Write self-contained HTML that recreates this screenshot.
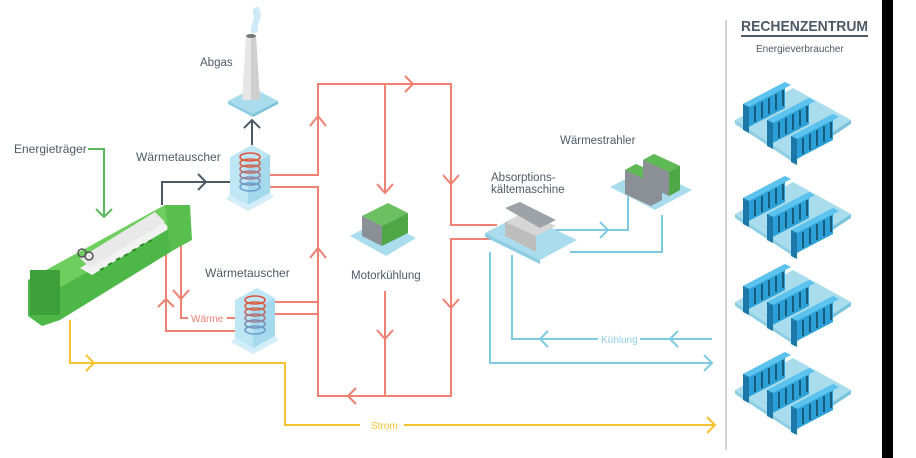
<!DOCTYPE html>
<html><head><meta charset="utf-8"><style>
html,body{margin:0;padding:0;background:#fff;}
svg{display:block;font-family:"Liberation Sans",sans-serif;}
</style></head><body>
<svg width="916" height="458" viewBox="0 0 916 458" xmlns="http://www.w3.org/2000/svg">
<defs>
<g id="row">
  <polygon points="0,22 42,0 42,26 0,48" fill="#2aa0d6"/>
  <polygon points="0,22 42,0 48,3 6,25" fill="#5cc3ee"/>
  <polygon points="0,22 6,25 6,51 0,48" fill="#1b78a8"/>
  <g stroke="#0d3f5a" stroke-width="1.4">
    <path d="M12,24v16M19,20v16M26,16v16M33,12v16M40,8v16"/>
  </g>
</g>
<g id="rack">
  <polygon points="0,42 58,10 116,42 58,80" fill="#a9dcec"/>
  <polygon points="0,42 58,80 58,84 0,46" fill="#8fcfe3"/>
  <polygon points="58,80 116,42 116,46 58,84" fill="#7cc4db"/>
  <use href="#row" x="8" y="4"/>
  <use href="#row" x="32" y="20"/>
  <use href="#row" x="56" y="36"/>
</g>
<g id="hx">
  <polygon points="0,12 22,0 40,10 40,48 18,60 0,50" fill="#bfe6f5"/>
  <polygon points="18,22 40,10 40,48 18,60" fill="#a5d9ee"/>
  <g fill="none" stroke-width="1.6">
    <ellipse cx="20" cy="12" rx="10" ry="4" stroke="#e0533e"/>
    <ellipse cx="20" cy="18" rx="10" ry="4" stroke="#d9603f"/>
    <ellipse cx="20" cy="24" rx="10" ry="4" stroke="#c46a5c"/>
    <ellipse cx="20" cy="30" rx="10" ry="4" stroke="#a77a8a"/>
    <ellipse cx="20" cy="36" rx="10" ry="4" stroke="#7d8fb4"/>
    <ellipse cx="20" cy="42" rx="10" ry="4" stroke="#6aa0cc"/>
  </g>
  <polygon points="0,50 18,60 40,48 44,52 18,66 -4,54" fill="#d3eef8"/>
</g>
</defs>

<rect x="882" y="0" width="11" height="458" fill="#000"/>
<line x1="726" y1="20" x2="726" y2="450" stroke="#c4c4c4" stroke-width="1.5"/>

<g fill="none" stroke="#ef8173" stroke-width="2">
  <path d="M268,175H318V84H451V225H497"/>
  <path d="M268,187H318V396H451V239H490"/>
  <path d="M270,302H318"/>
  <path d="M270,314H318"/>
  <path d="M385,84V193"/>
  <path d="M385,291V396"/>
  <path d="M166,250V331H235"/>
  <path d="M181,245V318H188"/>
  <path d="M227,318H236"/>
  <path d="M310,126L318,116L326,126"/>
  <path d="M310,258L318,248L326,258"/>
  <path d="M405,76L413,84L405,92"/>
  <path d="M377,184L385,193L393,184"/>
  <path d="M443,175L451,184L459,175"/>
  <path d="M443,299L451,308L459,299"/>
  <path d="M377,330L385,339L393,330"/>
  <path d="M356,388L348,396L356,404"/>
  <path d="M158,307L166,299L174,307"/>
  <path d="M173,290L181,299L189,290"/>
</g>
<text x="191" y="322" font-size="10" fill="#ef8173">Wärme</text>

<g fill="none" stroke="#4d5a66" stroke-width="2">
  <path d="M162,205V182H231"/>
  <path d="M198,174L206,182L198,190"/>
  <path d="M252,145V120"/>
  <path d="M244,128L252,120L260,128"/>
</g>

<g fill="none" stroke="#5cb85c" stroke-width="2">
  <path d="M88,149H104V217"/>
  <path d="M96,209L104,217L112,209"/>
</g>

<g fill="none" stroke="#f6c22f" stroke-width="2">
  <path d="M70,320V363H285V425H360"/>
  <path d="M404,425H715"/>
  <path d="M86,355L94,363L86,371"/>
  <path d="M707,417L715,425L707,433"/>
</g>
<text x="371" y="429" font-size="10" fill="#f6c22f">Strom</text>

<g fill="none" stroke="#7dcbe2" stroke-width="2">
  <path d="M555,230H628V195"/>
  <path d="M570,252H662V215"/>
  <path d="M490,252V363H712"/>
  <path d="M512,255V339H598"/>
  <path d="M640,339H712"/>
  <path d="M600,222L608,230L600,238"/>
  <path d="M704,355L712,363L704,371"/>
  <path d="M548,331L540,339L548,347"/>
  <path d="M678,331L670,339L678,347"/>
</g>
<text x="601" y="343" font-size="10" fill="#8fd0e4">Kühlung</text>

<polygon points="228,101 253,88 278,101 253,114" fill="#a9dcec"/>
<polygon points="228,101 253,114 253,117 228,104" fill="#8ccde3"/>
<polygon points="253,114 278,101 278,104 253,117" fill="#7cc4db"/>
<polygon points="246,36 256,36 260,100 242,100" fill="#e6e6e6"/>
<polygon points="251,36 256,36 260,100 251,100" fill="#cfcfcf"/>
<ellipse cx="251" cy="36" rx="5" ry="2" fill="#777"/>
<path d="M252,34C248,26 256,22 253,14C251,8 258,4 260,10C263,18 256,24 258,32Z" fill="#cdeaf6"/>
<text x="200" y="66" font-size="11.5" fill="#4d5a66">Abgas</text>

<use href="#hx" x="230" y="145"/>
<use href="#hx" x="235" y="288"/>
<text x="136" y="161" font-size="12" fill="#4d5a66">Wärmetauscher</text>
<text x="205" y="277" font-size="12" fill="#4d5a66">Wärmetauscher</text>
<text x="14" y="153" font-size="12" fill="#4d5a66">Energieträger</text>

<g>
  <polygon points="28,280 165,205 190,215 190,240 60,320 42,326 28,316" fill="#4db848"/>
  <polygon points="28,280 165,205 190,215 55,290" fill="#6fcf5e"/>
  <polygon points="80,268 160,220 170,228 92,275" fill="#f2f2f2"/>
  <polygon points="80,258 155,212 165,222 90,268" fill="#e9e9e9"/>
  <rect x="30" y="270" width="30" height="45" fill="#3ea03a"/>
  <circle cx="82" cy="253" r="4" fill="none" stroke="#555" stroke-width="1.5"/>
  <circle cx="89" cy="256" r="4" fill="none" stroke="#555" stroke-width="1.5"/>
  <g stroke="#2f8a2c" stroke-width="2">
    <path d="M100,270l4-2M108,265l4-2M116,260l4-2M124,256l4-2M132,251l4-2M140,246l4-2M148,242l4-2"/>
  </g>
  <polygon points="165,205 190,205 192,240 170,252" fill="#59c04f"/>
</g>

<polygon points="350,236 380,220 416,238 386,256" fill="#a9dcec"/>
<polygon points="362,216 388,203 408,213 382,226" fill="#6cc062"/>
<polygon points="362,216 382,226 382,246 362,236" fill="#8a9096"/>
<polygon points="382,226 408,213 408,233 382,246" fill="#4ea647"/>
<text x="351" y="279" font-size="11.5" fill="#4d5a66">Motorkühlung</text>

<polygon points="485,233 522,214 577,240 540,260" fill="#a9dcec"/>
<polygon points="485,233 540,260 540,264 485,237" fill="#8ccde3"/>
<polygon points="505,222 525,212 556,226 536,236 536,252 505,236" fill="#d6d6d6"/>
<polygon points="505,222 536,236 536,252 505,236" fill="#bdbdbd"/>
<polygon points="505,208 520,202 556,220 540,228" fill="#9ea3a8"/>
<text x="491" y="181" font-size="11.5" fill="#4d5a66">Absorptions-</text>
<text x="491" y="193" font-size="11.5" fill="#4d5a66">kältemaschine</text>

<polygon points="610,187 647,168 692,190 655,210" fill="#a9dcec"/>
<polygon points="625,170 636,164 662,176 662,200 651,206 625,194" fill="#8a9096"/>
<polygon points="625,170 636,164 662,176 651,182" fill="#5fb955"/>
<polygon points="643,160 654,154 680,166 680,190 669,196 643,184" fill="#8a9096"/>
<polygon points="643,160 654,154 680,166 669,172" fill="#5fb955"/>
<polygon points="669,172 680,166 680,190 669,196" fill="#4fa847"/>
<text x="560" y="144" font-size="11.5" fill="#4d5a66">Wärmestrahler</text>

<text x="741" y="31" font-size="15" font-weight="bold" fill="#4d5a66" textLength="127" lengthAdjust="spacingAndGlyphs">RECHENZENTRUM</text>
<rect x="741" y="35" width="127" height="2" fill="#4d5a66"/>
<text x="756" y="52" font-size="10" fill="#4d5a66">Energieverbraucher</text>
<use href="#rack" x="735" y="78"/>
<use href="#rack" x="735" y="172"/>
<use href="#rack" x="735" y="260"/>
<use href="#rack" x="735" y="348"/>
</svg>
</body></html>
